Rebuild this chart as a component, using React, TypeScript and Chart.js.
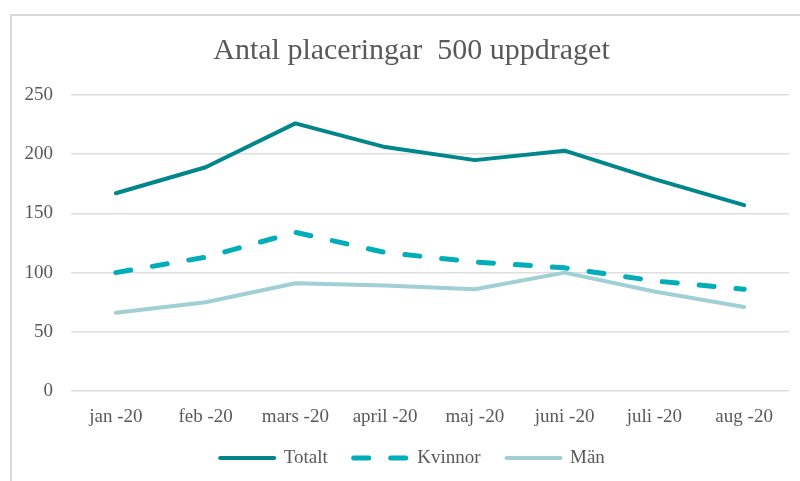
import React, { useEffect, useRef } from "react";
import { Chart, registerables } from "chart.js";

Chart.register(...registerables);

const categories = ["jan -20", "feb -20", "mars -20", "april -20", "maj -20", "juni -20", "juli -20", "aug -20"];
const totalt = [167, 189, 226, 206, 195, 203, 179, 157];
const kvinnor = [100, 113, 134, 117, 109, 104, 93, 86];
const man = [66, 75, 91, 89, 86, 100, 84, 71];
const yTicks = [0, 50, 100, 150, 200, 250];

const TEXT = "#595959";
const SERIF = "'Liberation Serif', 'Times New Roman', serif";

const boxShift = {
  id: "boxShift",
  afterLayout(chart: any) {
    const t = chart.titleBlock;
    if (t) {
      t.left += 5;
      t.right += 5;
    }
    const l = chart.legend;
    if (l) {
      l.left += 6;
      l.right += 6;
      l.top -= 8.5;
      l.bottom -= 8.5;
    }
  },
};

export default function App() {
  const ref = useRef<HTMLCanvasElement | null>(null);

  useEffect(() => {
    if (!ref.current) return;
    const chart = new Chart(ref.current, {
      type: "line",
      data: {
        labels: categories,
        datasets: [
          {
            label: "Totalt",
            data: totalt,
            borderColor: "#00868B",
            backgroundColor: "#00868B",
            borderWidth: 4,
            pointRadius: 0,
            borderCapStyle: "round",
            borderJoinStyle: "round",
            tension: 0,
          },
          {
            label: "Kvinnor",
            data: kvinnor,
            borderColor: "#00ADB9",
            backgroundColor: "#00ADB9",
            borderWidth: 5,
            borderDash: [15, 22],
            pointRadius: 0,
            borderCapStyle: "round",
            borderJoinStyle: "round",
            tension: 0,
          },
          {
            label: "Män",
            data: man,
            borderColor: "#A0CFD6",
            backgroundColor: "#A0CFD6",
            borderWidth: 4,
            pointRadius: 0,
            borderCapStyle: "round",
            borderJoinStyle: "round",
            tension: 0,
          },
        ],
      },
      plugins: [boxShift],
      options: {
        animation: false,
        responsive: false,
        maintainAspectRatio: false,
        layout: { padding: { left: 12, right: 22, top: 0, bottom: 0 } },
        plugins: {
          tooltip: { enabled: false },
          title: {
            display: true,
            text: "Antal placeringar  500 uppdraget",
            color: TEXT,
            font: { family: SERIF, size: 30, weight: "normal" },
            padding: { top: 17, bottom: 26 },
          },
          legend: {
            display: true,
            position: "bottom",
            labels: {
              usePointStyle: true,
              pointStyleWidth: 54,
              padding: 26,
              color: TEXT,
              font: { family: SERIF, size: 19 },
              generateLabels: (c: any) =>
                c.data.datasets.map((ds: any, i: number) => ({
                  text: ds.label,
                  fillStyle: ds.borderColor,
                  strokeStyle: ds.borderColor,
                  lineWidth: ds.borderWidth,
                  lineDash: ds.borderDash || [],
                  lineCap: "round",
                  pointStyle: "line",
                  fontColor: TEXT,
                  hidden: false,
                  datasetIndex: i,
                })),
            },
          },
        },
        scales: {
          x: {
            offset: true,
            grid: { display: false, drawTicks: false, offset: true },
            border: { display: false },
            ticks: {
              color: TEXT,
              font: { family: SERIF, size: 19 },
              padding: 15,
              maxRotation: 0,
              autoSkip: false,
            },
            afterFit: (s: any) => {
              s.height = 40;
            },
          },
          y: {
            min: 0,
            max: 250,
            afterBuildTicks: (s: any) => {
              s.ticks = yTicks.map((v) => ({ value: v }));
            },
            afterFit: (s: any) => {
              s.width = 47;
            },
            grid: { color: "#dedede", lineWidth: 1.5, drawTicks: false },
            border: { display: false },
            ticks: {
              color: TEXT,
              font: { family: SERIF, size: 19 },
              padding: 18,
              stepSize: 50,
            },
          },
        },
      },
    });
    return () => chart.destroy();
  }, []);

  return (
    <div
      style={{
        position: "fixed",
        left: 0,
        top: 0,
        width: 800,
        height: 481,
        overflow: "hidden",
        background: "#ffffff",
      }}
    >
      <div
        style={{
          position: "absolute",
          left: 10,
          top: 14,
          width: 820,
          height: 500,
          borderLeft: "2px solid #d9d9d9",
          borderTop: "2px solid #d9d9d9",
        }}
      >
        <canvas ref={ref} width={799} height={470} style={{ display: "block", width: 799, height: 470 }} />
      </div>
    </div>
  );
}
